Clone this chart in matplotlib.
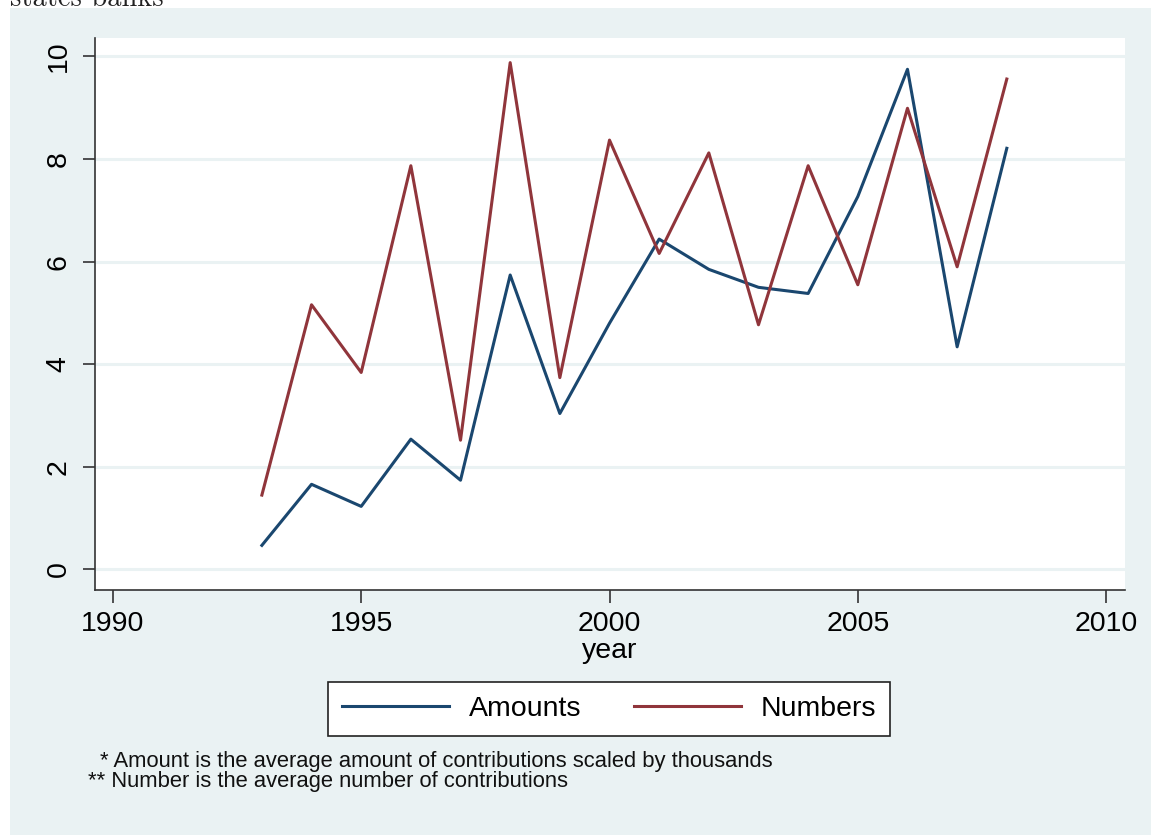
import matplotlib
matplotlib.use("Agg")
import matplotlib.pyplot as plt
from matplotlib.patches import Rectangle

# Yearly averages of political contributions
years = [1993, 1994, 1995, 1996, 1997, 1998, 1999, 2000,
         2001, 2002, 2003, 2004, 2005, 2006, 2007, 2008]
amounts = [0.47, 1.66, 1.23, 2.54, 1.74, 5.74, 3.04, 4.80,
           6.44, 5.85, 5.50, 5.38, 7.27, 9.75, 4.34, 8.21]
numbers = [1.45, 5.16, 3.84, 7.87, 2.52, 9.88, 3.74, 8.37,
           6.16, 8.12, 4.77, 7.87, 5.55, 8.99, 5.90, 9.56]

x_ticks = [1990, 1995, 2000, 2005, 2010]
y_ticks = [0, 2, 4, 6, 8, 10]
series_labels = ["Amounts", "Numbers"]
notes = ["* Amount is the average amount of contributions scaled by thousands",
         "** Number is the average number of contributions"]

W, H = 1151, 835
BG = "#EAF2F3"
NAVY = "#1A476F"
MAROON = "#90353B"
SANS = ["Liberation Sans", "DejaVu Sans"]
FS = 20.5

fig = plt.figure(figsize=(W / 100, H / 100), dpi=100)
fig.patch.set_facecolor("white")

# graph region background
fig.patches.append(Rectangle((10 / W, 0), 1 - 10 / W, 1 - 8 / H,
                             transform=fig.transFigure, facecolor=BG,
                             edgecolor="none", zorder=-10))

# clipped heading from the surrounding document
fig.text(10 / W, 1 - 6.5 / H, "states banks", family="cmr10", fontsize=20.5,
         ha="left", va="baseline", color="#222222")

left, right, top, bottom = 95, 1125, 38, 590
ax = fig.add_axes([left / W, 1 - bottom / H, (right - left) / W, (bottom - top) / H])
ax.set_zorder(2)
ax.set_facecolor("white")

ax.plot(years, amounts, color=NAVY, lw=2.2, label=series_labels[0], zorder=3)
ax.plot(years, numbers, color=MAROON, lw=2.2, label=series_labels[1], zorder=3)

ax.set_xlim(1989.64, 2010.38)
ax.set_ylim(-0.40, 10.36)
ax.set_xticks(x_ticks)
ax.set_yticks(y_ticks)
ax.set_xticklabels([str(t) for t in x_ticks], family=SANS, fontsize=FS)
ax.set_yticklabels([str(t) for t in y_ticks], family=SANS, fontsize=FS,
                   rotation=90, va="center")
ax.tick_params(axis="both", direction="out", length=9, width=1.2, color="#333333")
ax.tick_params(axis="y", pad=8)
ax.tick_params(axis="x", pad=6)

ax.grid(axis="y", color=BG, lw=2.2, zorder=1)
ax.grid(axis="x", visible=False)
for s in ("top", "right"):
    ax.spines[s].set_visible(False)
for s in ("left", "bottom"):
    ax.spines[s].set_color("#333333")
    ax.spines[s].set_linewidth(1.2)

ax.set_xlabel("year", family=SANS, fontsize=FS, labelpad=1)

leg = fig.legend(loc="center", bbox_to_anchor=(609 / W, 1 - 709 / H),
                 ncol=2, frameon=True, fancybox=False, framealpha=1,
                 edgecolor="#222222", facecolor="white",
                 prop={"family": SANS, "size": FS},
                 handlelength=3.75, handletextpad=0.7, columnspacing=1.85,
                 borderpad=0.5)
leg.get_frame().set_linewidth(1.2)

fig.text(100 / W, 1 - 761 / H, notes[0], family=SANS, fontsize=15.8,
         ha="left", va="center", color="#111111")
fig.text(88 / W, 1 - 782 / H, notes[1], family=SANS, fontsize=15.8,
         ha="left", va="center", color="#111111")

fig.savefig("out.png", dpi=100)
